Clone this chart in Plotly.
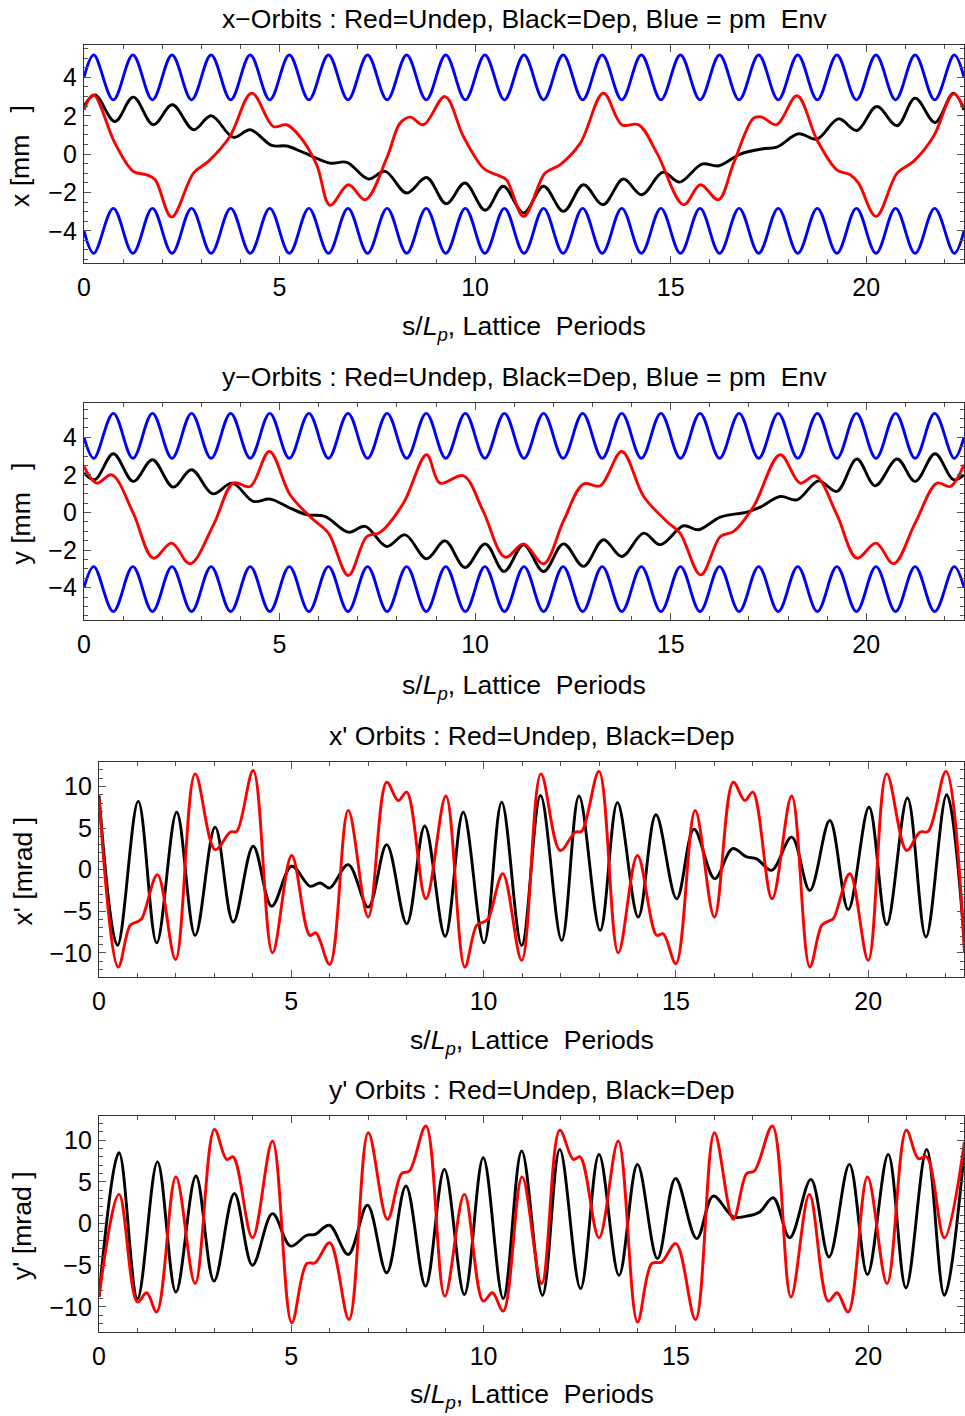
import plotly.graph_objects as go

W, H = 965, 1416

# ---------------- data ----------------
# blue +/- envelope, panel 1 (x) and panel 2 (y)
env_s = [0, 0.25, 0.75, 1.25, 1.75, 2.25, 2.75, 3.25, 3.75, 4.25, 4.75, 5.25, 5.75,
         6.25, 6.75, 7.25, 7.75, 8.25, 8.75, 9.25, 9.75, 10.25, 10.75, 11.25, 11.75,
         12.25, 12.75, 13.25, 13.75, 14.25, 14.75, 15.25, 15.75, 16.25, 16.75, 17.25,
         17.75, 18.25, 18.75, 19.25, 19.75, 20.25, 20.75, 21.25, 21.75, 22.25, 22.5]
x_env_upper = [4.0, 5.17, 2.83, 5.17, 2.83, 5.17, 2.83, 5.17, 2.83, 5.17, 2.83, 5.17, 2.83,
               5.17, 2.83, 5.17, 2.83, 5.17, 2.83, 5.17, 2.83, 5.17, 2.83, 5.17, 2.83,
               5.17, 2.83, 5.17, 2.83, 5.17, 2.83, 5.17, 2.83, 5.17, 2.83, 5.17,
               2.83, 5.17, 2.83, 5.17, 2.83, 5.17, 2.83, 5.17, 2.83, 5.17, 4.0]
x_env_lower = [-4.0, -5.17, -2.83, -5.17, -2.83, -5.17, -2.83, -5.17, -2.83, -5.17, -2.83, -5.17, -2.83,
               -5.17, -2.83, -5.17, -2.83, -5.17, -2.83, -5.17, -2.83, -5.17, -2.83, -5.17, -2.83,
               -5.17, -2.83, -5.17, -2.83, -5.17, -2.83, -5.17, -2.83, -5.17, -2.83, -5.17,
               -2.83, -5.17, -2.83, -5.17, -2.83, -5.17, -2.83, -5.17, -2.83, -5.17, -4.0]
y_env_upper = [4.0, 2.88, 5.27, 2.88, 5.27, 2.88, 5.27, 2.88, 5.27, 2.88, 5.27, 2.88, 5.27,
               2.88, 5.27, 2.88, 5.27, 2.88, 5.27, 2.88, 5.27, 2.88, 5.27, 2.88, 5.27,
               2.88, 5.27, 2.88, 5.27, 2.88, 5.27, 2.88, 5.27, 2.88, 5.27, 2.88,
               5.27, 2.88, 5.27, 2.88, 5.27, 2.88, 5.27, 2.88, 5.27, 2.88, 4.0]
y_env_lower = [-4.0, -2.88, -5.27, -2.88, -5.27, -2.88, -5.27, -2.88, -5.27, -2.88, -5.27, -2.88, -5.27,
               -2.88, -5.27, -2.88, -5.27, -2.88, -5.27, -2.88, -5.27, -2.88, -5.27, -2.88, -5.27,
               -2.88, -5.27, -2.88, -5.27, -2.88, -5.27, -2.88, -5.27, -2.88, -5.27, -2.88,
               -5.27, -2.88, -5.27, -2.88, -5.27, -2.88, -5.27, -2.88, -5.27, -2.88, -4.0]

# panel 1: x orbit, depressed (black)
x_dep_s = [0, 0.28, 0.79, 1.26, 1.77, 2.26, 2.80, 3.25, 3.82, 4.25, 4.80, 5.18, 5.65, 6.29,
           6.72, 7.27, 7.70, 8.25, 8.76, 9.26, 9.74, 10.26, 10.72, 11.24, 11.75, 12.26,
           12.77, 13.27, 13.79, 14.26, 14.80, 15.23, 15.80, 16.23, 16.78, 17.37, 17.71,
           18.27, 18.74, 19.29, 19.76, 20.27, 20.79, 21.25, 21.76, 22.23, 22.5]
x_dep = [2.5, 3.09, 1.70, 2.97, 1.53, 2.57, 1.27, 2.0, 0.87, 1.27, 0.45, 0.42, 0.05, -0.47,
         -0.43, -1.30, -0.9, -2.03, -1.22, -2.59, -1.51, -2.93, -1.68, -3.07, -1.68, -2.99,
         -1.6, -2.64, -1.30, -2.12, -0.95, -1.46, -0.52, -0.61, 0.0, 0.28, 0.36,
         1.06, 0.78, 1.84, 1.23, 2.48, 1.48, 2.92, 1.65, 3.18, 2.3]

# panel 1: x orbit, undepressed (red)
x_undep_s = [0, 0.24, 0.79, 1.26, 1.6, 1.82, 2.24, 2.80, 3.18, 3.73, 4.29, 4.84, 5.18, 5.52,
             5.95, 6.29, 6.76, 7.19, 7.74, 8.08, 8.34, 8.68, 9.23, 9.70, 10.22, 10.55, 10.8,
             11.24, 11.79, 12.17, 12.69, 13.28, 13.75, 14.18, 14.65, 15.33, 15.76, 16.22,
             16.61, 17.12, 17.33, 17.71, 18.23, 18.74, 19.25, 19.59, 19.8, 20.25, 20.79,
             21.21, 21.72, 22.23, 22.5]
x_undep = [2.31, 3.09, 0.57, -0.9, -1.08, -1.34, -3.28, -0.99, -0.38, 0.92, 3.18, 1.44, 1.53,
           0.92, -0.56, -2.67, -1.6, -2.38, -0.21, 1.61, 1.93, 1.53, 3.0, 0.92, -0.75, -1.08,
           -1.34, -3.25, -0.99, -0.56, 0.57, 3.18, 1.53, 1.53, 0.05, -2.64, -1.6, -2.38,
           -0.47, 1.88, 1.93, 1.53, 3.04, 0.75, -0.82, -1.08, -1.5, -3.25, -0.99,
           -0.38, 0.92, 3.14, 2.4]

# panel 2: y orbit, depressed (black)
y_dep_s = [0, 0.28, 0.75, 1.26, 1.75, 2.28, 2.75, 3.29, 3.79, 4.33, 4.76, 5.27, 5.69, 6.16,
           6.76, 7.19, 7.74, 8.21, 8.76, 9.23, 9.74, 10.26, 10.74, 11.24, 11.75, 12.26,
           12.77, 13.28, 13.75, 14.31, 14.73, 15.33, 15.71, 16.27, 16.95, 17.29, 17.8,
           18.23, 18.78, 19.25, 19.76, 20.23, 20.79, 21.25, 21.76, 22.23, 22.5]
y_dep = [2.1, 1.74, 3.12, 1.65, 2.8, 1.35, 2.27, 0.99, 1.56, 0.59, 0.71, 0.23, -0.12, -0.21,
         -1.05, -0.74, -1.81, -1.19, -2.46, -1.51, -2.93, -1.67, -3.14, -1.72, -3.14, -1.67,
         -2.87, -1.45, -2.34, -1.1, -1.72, -0.71, -0.92, -0.25, 0.02, 0.28, 0.85,
         0.67, 1.68, 1.12, 2.84, 1.42, 2.84, 1.65, 3.12, 1.74, 2.0]

# panel 2: y orbit, undepressed (red)
y_undep_s = [0, 0.32, 0.71, 1.26, 1.77, 2.24, 2.71, 3.31, 3.82, 4.25, 4.74, 5.27, 5.82, 6.25,
             6.76, 7.23, 7.57, 8.17, 8.76, 9.1, 9.7, 10.2, 10.77, 11.24, 11.75, 12.26, 12.77,
             13.2, 13.75, 14.31, 14.9, 15.24, 15.77, 16.27, 16.61, 17.12, 17.8, 18.31, 18.7,
             19.25, 19.76, 20.25, 20.70, 21.25, 21.81, 22.15, 22.5]
y_undep = [2.45, 1.56, 2.0, -0.04, -2.43, -1.63, -2.73, -0.66, 1.56, 1.38, 3.24, 0.94, -0.3,
           -1.1, -3.35, -1.28, -1.06, 0.5, 3.07, 1.56, 1.95, 0.1, -2.38, -1.67, -2.73, -0.45,
           1.51, 1.42, 3.24, 0.85, -0.48, -1.1, -3.32, -1.28, -1.01, 0.32, 3.07, 1.56, 1.95,
           -0.12, -2.43, -1.63, -2.73, -0.57, 1.56, 1.38, 2.54]

# panel 3: x' angle, depressed (black)
xp_dep_s = [0, 0.48, 1.02, 1.50, 2.02, 2.50, 3.02, 3.49, 4.01, 4.49, 5.01, 5.49, 5.75, 6.0,
            6.48, 7.0, 7.48, 8.0, 8.47, 9.0, 9.47, 10.01, 10.47, 10.99, 11.48, 12.03, 12.48,
            13.03, 13.48, 14.02, 14.48, 15.02, 15.47, 16.01, 16.47, 16.84, 17.1, 17.49,
            18.01, 18.48, 19.0, 19.48, 20.02, 20.48, 21.02, 21.50, 22.04, 22.5]
xp_dep = [8.9, -9.1, 8.2, -8.8, 6.9, -7.9, 5.1, -6.3, 2.8, -4.4, 0.4, -2.0, -1.6, -2.2,
          0.6, -4.5, 3.0, -6.5, 5.25, -8.0, 6.9, -8.8, 8.1, -9.1, 8.9, -8.5, 8.85,
          -7.3, 8.05, -5.7, 6.6, -3.5, 4.85, -1.08, 2.52, 1.52, 1.3, -0.08,
          3.9, -2.5, 5.9, -4.8, 7.5, -6.6, 8.6, -8.1, 9.0, -8.8]

# panel 3: x' angle, undepressed (red)
xp_undep_s = [0, 0.5, 0.81, 0.98, 1.11, 1.52, 1.99, 2.5, 3.02, 3.41, 3.58, 4.01, 4.51, 5.01,
              5.48, 5.64, 6.0, 6.48, 7.0, 7.48, 7.78, 8.0, 8.5, 9.02, 9.51, 9.82, 10.0, 10.12,
              10.5, 10.99, 11.49, 11.99, 12.38, 12.55, 13.0, 13.5, 14.0, 14.5, 14.67, 15.0,
              15.5, 16.0, 16.49, 16.79, 17.0, 17.5, 18.01, 18.48, 18.79, 18.96, 19.09, 19.52,
              20.0, 20.48, 21.0, 21.34, 21.56, 22.02, 22.5]
xp_undep = [8.7, -11.7, -6.7, -6.3, -5.9, -0.6, -10.8, 11.5, 2.4, 4.5, 4.6, 11.9, -10.0, 1.7,
            -7.9, -7.6, -11.4, 7.1, -5.7, 10.5, 8.3, 9.3, -3.5, 8.85, -11.7, -6.7, -6.3, -5.9,
            -0.5, -10.9, 11.5, 2.3, 4.5, 4.6, 11.8, -10.0, 1.7, -7.9, -7.7, -11.3,
            7.1, -5.7, 10.5, 8.3, 9.3, -3.5, 8.85, -11.7, -6.7, -6.2, -5.9, -0.5,
            -10.9, 11.5, 2.3, 4.5, 4.6, 11.8, -9.9]

# panel 4: y' angle, depressed (black)
yp_dep_s = [0, 0.52, 1.0, 1.52, 2.0, 2.52, 2.99, 3.52, 3.99, 4.51, 4.98, 5.4, 5.62, 5.99,
            6.48, 6.98, 7.48, 7.98, 8.49, 8.98, 9.5, 9.99, 10.51, 10.99, 11.53, 11.98, 12.52,
            13.0, 13.52, 14.0, 14.52, 14.99, 15.54, 15.97, 16.49, 16.84, 17.18, 17.53,
            17.96, 18.51, 18.98, 19.51, 19.98, 20.52, 20.98, 21.52, 21.98, 22.5]
yp_dep = [-8.8, 8.5, -9.0, 7.4, -8.2, 5.7, -6.9, 3.6, -5.0, 1.2, -2.7, -1.4, -1.3, -0.2,
          -3.7, 2.2, -5.9, 4.5, -7.5, 6.5, -8.5, 7.9, -9.0, 8.7, -8.6, 8.9, -7.8,
          8.3, -6.2, 7.1, -4.2, 5.4, -1.8, 3.3, 0.8, 0.9, 1.4, 3.1,
          -1.7, 5.3, -4.0, 7.1, -6.1, 8.3, -7.7, 8.9, -8.6, 8.8]

# panel 4: y' angle, undepressed (red)
yp_undep_s = [0, 0.52, 1.0, 1.24, 1.5, 2.0, 2.5, 3.0, 3.32, 3.49, 3.99, 4.51, 5.01, 5.4, 5.62,
              6.0, 6.5, 7.0, 7.5, 7.87, 8.07, 8.5, 8.99, 9.5, 9.99, 10.23, 10.51, 11.0, 11.51,
              11.98, 12.33, 12.51, 13.0, 13.5, 14.0, 14.37, 14.63, 15.0, 15.51, 16.0, 16.49,
              16.84, 17.04, 17.51, 17.99, 18.47, 18.96, 19.19, 19.48, 19.98, 20.49, 20.99,
              21.3, 21.52, 21.98, 22.5]
yp_undep = [-8.8, 3.5, -9.4, -8.3, -10.6, 5.6, -7.2, 11.3, 7.7, 8.0, -1.7, 9.9, -11.9, -4.8,
            -4.7, -2.3, -11.5, 10.9, 0.5, 6.0, 6.3, 11.7, -8.7, 3.5, -9.3, -8.3, -10.5, 5.6,
            -7.2, 11.2, 7.7, 8.0, -1.7, 9.9, -11.8, -4.8, -4.6, -2.4, -11.5, 10.9, 0.5,
            6.0, 6.3, 11.7, -8.8, 3.5, -9.3, -8.3, -10.6, 5.6, -7.2, 11.2,
            7.8, 8.0, -1.7, 9.8]

x_tickvals = [0, 5, 10, 15, 20]
titles = ["x\u2212Orbits : Red=Undep, Black=Dep, Blue = pm\u00a0\u00a0Env",
          "y\u2212Orbits : Red=Undep, Black=Dep, Blue = pm\u00a0\u00a0Env",
          "x' Orbits : Red=Undep, Black=Dep",
          "y' Orbits : Red=Undep, Black=Dep"]
ylabels = ["x [mm\u00a0\u00a0\u00a0]", "y [mm\u00a0\u00a0\u00a0]",
           "x' [mrad\u00a0]", "y' [mrad\u00a0]"]
xlabel = "s/<i>L</i><sub><i>p</i></sub>, Lattice\u00a0\u00a0Periods"

# ---------------- layout geometry (pixels) ----------------
panels = [
    dict(l=84, r=964, t=45, b=263, yr=[-5.68, 5.69], xr=[0, 22.5], mdt=0.5,
         tvals=[-4, -2, 0, 2, 4], title_y=19, xl_y=328, yl_x=20),
    dict(l=84, r=964, t=403, b=620, yr=[-5.72, 5.82], xr=[0, 22.5], mdt=0.5,
         tvals=[-4, -2, 0, 2, 4], title_y=377, xl_y=687, yl_x=20),
    dict(l=99, r=964, t=762, b=977, yr=[-12.9, 12.93], xr=[0, 22.49], mdt=1,
         tvals=[-10, -5, 0, 5, 10], title_y=736, xl_y=1042, yl_x=22),
    dict(l=99, r=964, t=1116, b=1332, yr=[-13.0, 12.9], xr=[0, 22.49], mdt=1,
         tvals=[-10, -5, 0, 5, 10], title_y=1090, xl_y=1396, yl_x=22),
]

series = [
    [(env_s, x_env_upper, "blue"), (env_s, x_env_lower, "blue"),
     (x_dep_s, x_dep, "black"), (x_undep_s, x_undep, "red")],
    [(env_s, y_env_upper, "blue"), (env_s, y_env_lower, "blue"),
     (y_dep_s, y_dep, "black"), (y_undep_s, y_undep, "red")],
    [(xp_dep_s, xp_dep, "black"), (xp_undep_s, xp_undep, "red")],
    [(yp_dep_s, yp_dep, "black"), (yp_undep_s, yp_undep, "red")],
]

colors = {"blue": "#0000ff", "black": "#000000", "red": "#ff0000"}
FONT = "Liberation Sans, Arial, Helvetica, sans-serif"
TXT = 26.6
TICK = 25

fig = go.Figure()
annotations = []
layout = dict(width=W, height=H, margin=dict(l=0, r=0, t=0, b=0, autoexpand=False),
              autosize=False,
              paper_bgcolor="white", plot_bgcolor="white", showlegend=False,
              font=dict(family=FONT, size=TICK, color="black"))


def px(x):
    return x / W


def py(y):
    return 1 - y / H


for i, (p, ser) in enumerate(zip(panels, series)):
    n = "" if i == 0 else str(i + 1)
    xa, ya = "x" + n, "y" + n
    for s, v, c in ser:
        fig.add_trace(go.Scatter(x=s, y=v, mode="lines", xaxis=xa, yaxis=ya,
                                 line=dict(color=colors[c], width=2.9, shape="spline",
                                           smoothing=1.0),
                                 hoverinfo="skip"))
    common = dict(showgrid=False, zeroline=False, showline=True, linecolor="#333",
                  linewidth=1.2, mirror="ticks", ticks="inside", ticklen=7,
                  tickwidth=1, tickcolor="#555", automargin=False,
                  tickfont=dict(family=FONT, size=TICK, color="black"))
    layout["xaxis" + n] = dict(common, domain=[px(p["l"]), px(p["r"])], range=p["xr"],
                               anchor=ya, tickmode="array", tickvals=x_tickvals,
                               ticktext=[str(t) for t in x_tickvals],
                               ticklabelstandoff=2,
                               minor=dict(tickmode="linear", tick0=0, dtick=1,
                                          ticks="inside", ticklen=4, tickcolor="#555"))
    layout["yaxis" + n] = dict(common, domain=[py(p["b"]), py(p["t"])], range=p["yr"],
                               anchor=xa, tickmode="array", tickvals=p["tvals"],
                               ticktext=[str(t).replace("-", "\u2212") for t in p["tvals"]],
                               ticklabelstandoff=1,
                               minor=dict(tickmode="linear", tick0=0, dtick=p["mdt"],
                                          ticks="inside", ticklen=4, tickcolor="#555"))
    cx = (p["l"] + p["r"]) / 2
    annotations.append(dict(text=titles[i], x=px(cx), y=py(p["title_y"]), xref="paper",
                            yref="paper", xanchor="center", yanchor="middle",
                            showarrow=False, font=dict(family=FONT, size=TXT)))
    annotations.append(dict(text=xlabel, x=px(cx), y=py(p["xl_y"]), xref="paper",
                            yref="paper", xanchor="center", yanchor="middle",
                            showarrow=False, font=dict(family=FONT, size=TXT)))
    annotations.append(dict(text=ylabels[i], x=px(p["yl_x"]), y=py((p["t"] + p["b"]) / 2 + 2),
                            xref="paper", yref="paper", xanchor="center", yanchor="middle",
                            textangle=-90, showarrow=False, font=dict(family=FONT, size=TXT)))

layout["annotations"] = annotations
fig.update_layout(**layout)

# pin the figure to the page's top-left corner (no body margin / scrollbars)
pin = ("document.documentElement.style.margin='0px';"
       "document.documentElement.style.overflow='hidden';"
       "document.body.style.margin='0px';document.body.style.padding='0px';"
       "document.body.style.overflow='hidden';"
       "var gd=document.getElementById('{plot_id}');"
       "gd.style.position='absolute';gd.style.left='0px';gd.style.top='0px';")
fig.write_html("out.html", post_script=pin,
               config={"displayModeBar": False, "staticPlot": True})
